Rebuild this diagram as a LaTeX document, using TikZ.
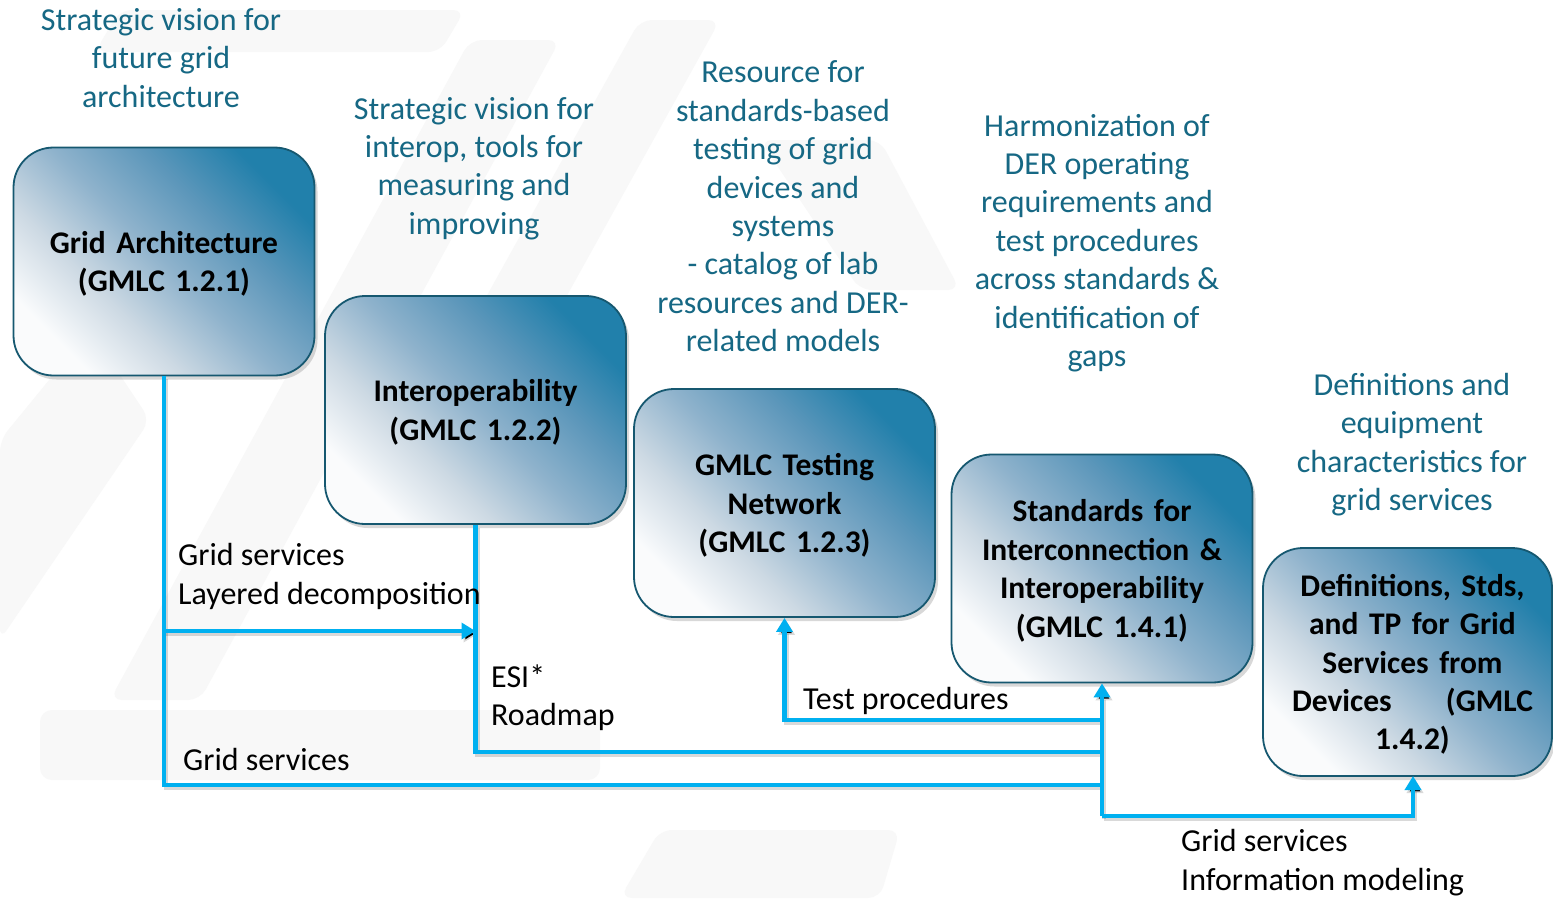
\documentclass[tikz,border=0pt]{standalone}
\usepackage{fontspec}
\setmainfont{Carlito}
\usetikzlibrary{arrows.meta,shadows}
\definecolor{boxedge}{RGB}{22,88,112}
\definecolor{teal}{RGB}{22,104,132}
\definecolor{cyanline}{RGB}{0,176,240}
\definecolor{wm}{RGB}{248,248,248}
\pgfdeclareverticalshading{boxshade}{100bp}{%
  rgb(0bp)=(0.98,0.985,0.99);
  rgb(25bp)=(0.98,0.985,0.99);
  rgb(37.5bp)=(0.80,0.85,0.89);
  rgb(50bp)=(0.56,0.70,0.80);
  rgb(62.5bp)=(0.36,0.59,0.73);
  rgb(75bp)=(0.13,0.50,0.67);
  rgb(100bp)=(0.13,0.50,0.67)}
\tikzset{
  box/.style={rounded corners=40pt, draw=boxedge, line width=1.8pt,
    shading=boxshade, shading angle=-45,
    minimum width=301pt, minimum height=228pt, text width=285pt, align=center,
    font=\fontsize{31.5}{38.4}\selectfont\bfseries,
    drop shadow={opacity=0.3, shadow xshift=3pt, shadow yshift=-4pt}},
  note/.style={text=teal, align=center, font=\fontsize{32}{38.4}\selectfont, inner sep=0pt},
  lbl/.style={text=black, align=left, font=\fontsize{32}{38.4}\selectfont, inner sep=0pt, anchor=west},
  conn/.style={draw=cyanline, line width=4.5pt,
    preaction={draw=black, draw opacity=0.15, line width=4.5pt, transform canvas={xshift=2pt,yshift=-3pt}}},
  tip/.style={-{Triangle[width=16pt,length=14pt]}},
  wmark/.style={fill=wm, rounded corners=12pt}
}
\begin{document}
\begin{tikzpicture}[x=1pt,y=-1pt]
\useasboundingbox (0,0) rectangle (1553,898);
\fill[white] (0,0) rectangle (1553,898);
% faint watermark
\fill[wmark] (120,10) -- (465,10) -- (440,52) -- (95,52) -- cycle;
\fill[wmark] (470,40) -- (560,40) -- (200,700) -- (110,700) -- cycle;
\fill[wmark] (640,20) -- (720,20) -- (470,470) -- (390,470) -- cycle;
\fill[wmark] (0,440) -- (90,330) -- (150,420) -- (0,640) -- cycle;
\fill[wmark] (40,710) -- (600,710) -- (600,780) -- (40,780) -- cycle;
\fill[wmark] (760,140) -- (880,140) -- (960,290) -- (860,290) -- cycle;
\fill[wmark] (660,830) -- (900,830) -- (880,898) -- (620,898) -- cycle;

% boxes
\node[box] (b1) at (164,261.5) {\strut Grid Architecture\\(GMLC 1.2.1)};
\node[box] (b2) at (475.5,410) {\strut Interoperability\\(GMLC 1.2.2)};
\node[box] (b3) at (784.5,503) {\strut GMLC Testing\\Network\\(GMLC 1.2.3)};
\node[box] (b4) at (1102,568.5) {\strut Standards for\\Interconnection \&\\Interoperability\\(GMLC 1.4.1)};
\node[box, minimum width=289pt, text width=275pt] (b5) at (1407.5,662) {\strut\hspace*{10pt}Definitions, Stds,\\\hspace*{10pt}and TP for Grid\\\hspace*{10pt}Services from\\\hspace*{10pt}\makebox[241pt][s]{Devices\hfill(GMLC}\\\hspace*{10pt}1.4.2)};

% notes
\node[note] (n1) at (161,58) {Strategic vision for\\future grid\\architecture};
\node[note] (n2) at (474,168.5) {Strategic vision for\\interop, tools for\\measuring and\\improving};
\node[note] (n3) at (783,206.5) {Resource for\\standards-based\\testing of grid\\devices and\\systems\\- catalog of lab\\resources and DER-\\related models};
\node[note] (n4) at (1097,243) {Harmonization of\\DER operating\\requirements and\\test procedures\\across standards \&\\identification of\\gaps};
\node[note] (n5) at (1412,444.5) {Definitions and\\equipment\\characteristics for\\grid services};

% junction coordinates
\coordinate (jA) at (1102,720);
\coordinate (jB) at (1102,752);
\coordinate (jC) at (1102,785);
\coordinate (jD) at (1102,816);
\coordinate (g1) at (164,631);
\coordinate (b5in) at (1413,776);

% connectors
\draw[conn] (b1.south) |- (jC);
\draw[conn,tip] (g1) -- (g1 -| b2.south);
\draw[conn] (b2.south) |- (jB);
\draw[conn,tip] (jA) -| (b3.south);
\draw[conn,tip] (jD) -- (b4.south);
\draw[conn,tip] (jD) -| (b5in);

% labels
\node[lbl] (l1) at (178,576.5) {Grid services\\Layered decomposition};
\node[lbl] (l2) at (491,697.5) {ESI*\\Roadmap};
\node[lbl] (l3) at (803,701) {Test procedures};
\node[lbl] (l4) at (183,759) {Grid services};
\node[lbl] (l5) at (1181,862.5) {Grid services\\Information modeling};
\end{tikzpicture}
\end{document}
